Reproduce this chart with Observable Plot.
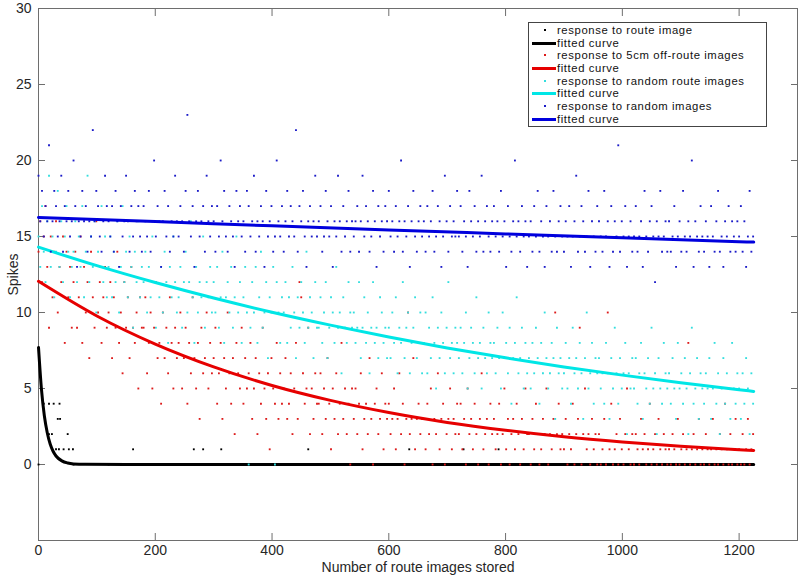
<!DOCTYPE html>
<html>
<head>
<meta charset="utf-8">
<script src="https://cdn.jsdelivr.net/npm/d3@7"></script>
<script src="https://cdn.jsdelivr.net/npm/@observablehq/plot@0.6"></script>
<style>
  html, body { margin: 0; padding: 0; background: #fff; }
  #wrap { position: relative; width: 800px; height: 576px; font-family: "Liberation Sans", Arial, sans-serif; }
  #legend { position: absolute; left: 528px; top: 22px; width: 239px; height: 105px; border: 1px solid #444; background: #fff; box-sizing: border-box; padding-top: 1px; }
  .row { position: relative; height: 12.7px; overflow: visible; }
  .row span.t { position: absolute; left: 28px; top: 0; display: block; height: 12.7px; line-height: 12.7px; font-size: 11.3px; letter-spacing: 0.6px; color: #111; white-space: nowrap; }
  .row span.l { position: absolute; left: 3px; top: 5px; width: 24px; height: 3px; }
  .row span.d { position: absolute; left: 15px; top: 5px; width: 2px; height: 2px; }
</style>
</head>
<body>
<div id="wrap"></div>
<script>
// ---- axis ticks ----
const xTicks = [0, 200, 400, 600, 800, 1000, 1200];
const yTicks = [0, 5, 10, 15, 20, 25, 30];

// ---- scatter: one sample every 3 stored images (x = index * 3) ----
const scatterStep = 3;

// response to route image (non-zero responses; all others are 0)
const routeX = [9, 18, 26, 36, 33, 37, 18, 23, 50, 30, 35, 43, 52, 59, 162, 266, 282, 313, 462, 635, 728, 788, 0, 60, 120, 240, 400, 600, 800, 1000, 1200];
const routeY = [4, 4, 4, 4, 3, 3, 2, 2, 2, 1, 1, 1, 1, 1, 1, 1, 1, 1, 1, 1, 1, 1, 0, 0, 0, 0, 0, 0, 0, 0, 0];

// response to 5cm off-route images
const redSpikes = [
14,16,12,15,17,13,9,15,11,14,16,10,13,12,15,8,14,11,13,9,
12,14,9,11,15,8,13,10,12,7,14,11,9,16,10,12,8,11,13,9,
10,12,7,11,9,14,8,10,6,12,9,11,7,13,9,8,10,5,11,9,
9,11,6,8,10,5,9,12,7,8,4,10,7,9,6,11,8,5,9,7,
8,10,5,7,9,4,8,6,11,7,5,8,3,9,6,7,10,5,8,6,
7,9,4,6,8,3,7,5,10,6,4,7,2,8,6,5,9,4,7,5,
6,8,3,5,7,2,6,4,9,5,3,6,1,7,5,4,8,3,6,4,
5,7,3,4,6,2,5,8,3,12,11,6,4,5,9,2,5,3,6,4,
4,6,2,5,3,7,4,1,5,3,6,2,4,8,3,5,2,4,0,5,
3,5,2,4,6,1,3,4,2,7,3,0,4,5,2,3,6,1,4,3,
4,2,3,5,1,3,6,2,4,0,3,10,2,3,7,1,3,4,2,3,
3,1,4,2,5,0,3,2,6,1,3,4,0,2,3,5,1,3,2,4,
2,4,1,3,0,5,2,3,1,4,2,0,3,6,1,2,3,0,4,2,
3,1,2,4,0,2,5,1,3,0,2,3,1,4,2,0,3,1,5,2,
2,0,3,1,4,2,0,1,3,2,5,0,2,1,3,10,2,4,1,2,
1,3,0,2,1,4,0,2,3,9,0,2,5,1,2,0,3,1,2,0,
2,0,1,3,0,10,1,4,0,1,2,0,3,1,0,2,5,1,0,2,
0,2,1,0,3,1,2,0,1,4,0,1,2,0,3,1,0,2,1,0,
1,0,2,1,0,3,0,1,2,0,1,8,0,1,2,0,1,3,0,1,
0,2,1,0,1,3,0,1,0,2,1,0,4,1,0,2,0,1,3,0,
1,0,2,0,1,3,0,1,2
];

// response to random route images
const cyanSpikes = [
15,13,17,14,12,16,19,13,15,11,14,18,13,16,12,15,17,14,11,13,
14,16,12,15,13,17,11,14,19,12,15,13,16,10,14,13,17,12,15,11,
13,15,11,14,12,16,10,13,17,12,14,11,15,13,9,14,12,16,11,13,
12,14,10,13,11,15,12,9,16,11,13,10,14,12,8,13,11,15,12,10,
11,13,9,12,14,10,12,16,11,8,13,10,12,11,15,9,12,11,13,10,
12,10,13,9,11,14,8,11,12,10,13,9,11,15,10,12,8,11,13,10,
0,9,12,10,13,8,11,14,9,10,12,7,11,10,13,0,12,10,8,11,
10,12,8,11,9,13,10,7,11,9,12,10,8,14,9,11,10,7,12,9,
9,11,8,10,12,7,9,11,10,8,13,9,10,6,11,9,8,12,10,9,
10,8,9,12,7,9,11,8,10,6,9,12,8,9,7,11,10,8,9,7,
9,7,10,8,11,6,9,8,12,7,9,10,6,8,9,11,7,8,10,6,
8,10,6,9,7,11,8,5,9,7,10,8,6,9,12,7,8,6,9,8,
7,9,6,8,10,5,7,9,8,6,11,7,8,5,9,7,6,10,8,7,
8,6,9,7,5,10,7,8,6,9,4,7,8,11,6,7,9,5,8,6,
7,5,8,6,9,7,4,8,6,10,7,5,6,8,7,3,9,6,7,5,
6,8,5,7,4,9,6,7,5,8,6,3,7,10,5,6,8,4,7,6,
7,5,6,4,8,6,3,7,5,9,6,4,7,5,6,8,2,6,5,7,
5,7,4,6,8,3,6,5,7,4,9,5,6,2,7,5,4,8,6,5,
6,4,7,5,3,8,5,6,4,7,5,2,6,9,4,5,7,3,6,5,
4,6,5,7,3,5,8,4,6,2,5,7,4,6,5,3,8,5,4,6,
5,3,6,4,7,5,2,6,4
];

// response to random images
const blueSpikes = [
19,16,18,15,17,16,21,14,16,18,17,15,16,19,14,17,16,18,15,16,
20,17,13,16,15,18,16,17,14,16,15,22,16,18,17,15,14,16,19,17,
16,15,17,14,18,16,13,17,15,16,19,16,14,17,15,18,16,17,15,14,
17,16,15,18,14,16,20,15,17,16,13,16,18,15,17,14,16,15,19,16,
15,17,16,14,18,23,16,15,17,13,16,18,15,16,17,14,19,16,15,17,
16,14,17,15,20,16,18,15,14,17,16,15,13,18,16,17,15,16,14,18,
17,15,16,19,14,16,15,17,16,13,18,15,16,17,14,15,20,16,15,17,
14,16,18,15,17,16,15,22,14,17,16,18,15,13,16,17,15,16,19,15,
16,17,14,15,18,16,15,17,13,16,15,19,16,14,17,15,16,18,14,16,
15,16,17,14,16,19,15,17,16,14,15,18,16,13,17,15,16,14,17,16,
18,15,16,14,17,15,16,20,14,16,15,17,13,16,18,15,14,16,17,15,
16,14,17,15,16,18,14,15,17,16,13,15,19,16,14,17,15,16,15,18,
15,17,14,16,15,13,18,16,15,17,14,16,15,19,14,16,17,15,14,16,
17,15,16,14,18,15,16,13,17,15,14,16,20,15,16,14,17,15,16,13,
15,16,14,17,15,18,14,16,15,13,17,15,16,14,18,15,14,16,17,15,
14,16,15,17,13,15,16,19,14,15,17,16,14,15,18,13,16,15,14,17,
16,15,14,18,15,16,13,17,14,16,15,21,14,16,15,17,13,15,16,14,
15,17,14,15,16,13,18,15,14,16,17,15,12,16,15,18,14,15,16,14,
16,14,15,17,13,15,16,14,18,15,14,16,15,20,13,16,15,14,17,15,
14,16,15,13,17,15,14,16,18,14,15,13,16,15,17,14,16,15,14,16,
15,17,14,16,13,15,18,14,15
];

// ---- fitted curves, read at sample points ----
const blackFitX = [0, 5, 10, 15, 20, 25, 30, 40, 50, 60, 80, 150, 1225];
const blackFitY = [7.7, 4.97, 3.21, 2.09, 1.35, 0.87, 0.56, 0.24, 0.1, 0.04, 0.01, 0, 0];
const fitX = [0, 100, 200, 300, 400, 500, 600, 700, 800, 900, 1000, 1100, 1200, 1225];
const redFitY  = [12.05, 9.77, 7.92, 6.42, 5.2, 4.22, 3.42, 2.77, 2.25, 1.82, 1.48, 1.2, 0.97, 0.92];
const cyanFitY = [14.3, 13.08, 11.97, 10.95, 10.02, 9.17, 8.39, 7.67, 7.02, 6.42, 5.88, 5.38, 4.92, 4.81];
const blueFitX = [0, 200, 400, 600, 800, 1000, 1200, 1225];
const blueFitY = [16.25, 15.98, 15.7, 15.43, 15.17, 14.91, 14.66, 14.63];

// ---- colours ----
const C = { black: "#000000", red: "#e60000", cyan: "#00e6e6", blue: "#0000dd",
            redDot: "#dd1a1a", cyanDot: "#33dede", blueDot: "#1a1ac8" };

const pts = (arr) => arr.map((y, i) => ({ x: i * scatterStep, y }));
const pairs = (xs, ys) => xs.map((x, i) => ({ x, y: ys[i] }));

const route = pairs(routeX, routeY);
const red = pts(redSpikes), cyan = pts(cyanSpikes), blue = pts(blueSpikes);

const dot = (data, fill) => Plot.dot(data, { x: "x", y: "y", fill, r: 1.05, symbol: "square" });
const fit = (data, stroke) => Plot.line(data, { x: "x", y: "y", stroke, strokeWidth: 3, curve: "monotone-x" });

const axisGray = "#6e6e6e";
const intFmt = d3.format("d");
const chart = Plot.plot({
  width: 800, height: 576,
  marginLeft: 38, marginRight: 3, marginTop: 8, marginBottom: 36,
  style: { fontFamily: "'Liberation Sans', Arial, sans-serif", fontSize: "14px", color: "#262626", background: "#fff" },
  x: { domain: [0, 1300] },
  y: { domain: [-5, 30] },
  marks: [
    Plot.frame({ stroke: axisGray }),
    Plot.axisX({ ticks: xTicks, tickFormat: intFmt, tickSize: -7, tickPadding: 12, stroke: axisGray, label: "Number of route images stored", labelAnchor: "center", labelOffset: 31, labelArrow: "none" }),
    Plot.axisX({ anchor: "top", ticks: xTicks, tickSize: -7, stroke: axisGray, tickFormat: () => "", label: null }),
    Plot.axisY({ ticks: yTicks, tickFormat: intFmt, tickSize: -7, tickPadding: 14, stroke: axisGray, label: "Spikes", labelAnchor: "center", labelOffset: 30, labelArrow: "none" }),
    Plot.axisY({ anchor: "right", ticks: yTicks, tickSize: -7, stroke: axisGray, tickFormat: () => "", label: null }),
    dot(route, C.black),
    fit(pairs(blackFitX, blackFitY), C.black),
    dot(red, C.redDot),
    fit(pairs(fitX, redFitY), C.red),
    dot(cyan, C.cyanDot),
    fit(pairs(fitX, cyanFitY), C.cyan),
    dot(blue, C.blueDot),
    fit(pairs(blueFitX, blueFitY), C.blue)
  ]
});

const wrap = document.getElementById("wrap");
wrap.appendChild(chart);

// ---- legend ----
const legendItems = [
  { kind: "dot", color: C.black, text: "response to route image" },
  { kind: "line", color: C.black, text: "fitted curve" },
  { kind: "dot", color: C.redDot, text: "response to 5cm off-route images" },
  { kind: "line", color: C.red, text: "fitted curve" },
  { kind: "dot", color: C.cyanDot, text: "response to random route images" },
  { kind: "line", color: C.cyan, text: "fitted curve" },
  { kind: "dot", color: C.blueDot, text: "response to random images" },
  { kind: "line", color: C.blue, text: "fitted curve" }
];
const leg = document.createElement("div");
leg.id = "legend";
for (const it of legendItems) {
  const row = document.createElement("div");
  row.className = "row";
  const m = document.createElement("span");
  m.className = it.kind === "dot" ? "d" : "l";
  m.style.background = it.color;
  const t = document.createElement("span");
  t.className = "t";
  t.textContent = it.text;
  row.appendChild(m); row.appendChild(t);
  leg.appendChild(row);
}
wrap.appendChild(leg);
</script>
</body>
</html>
